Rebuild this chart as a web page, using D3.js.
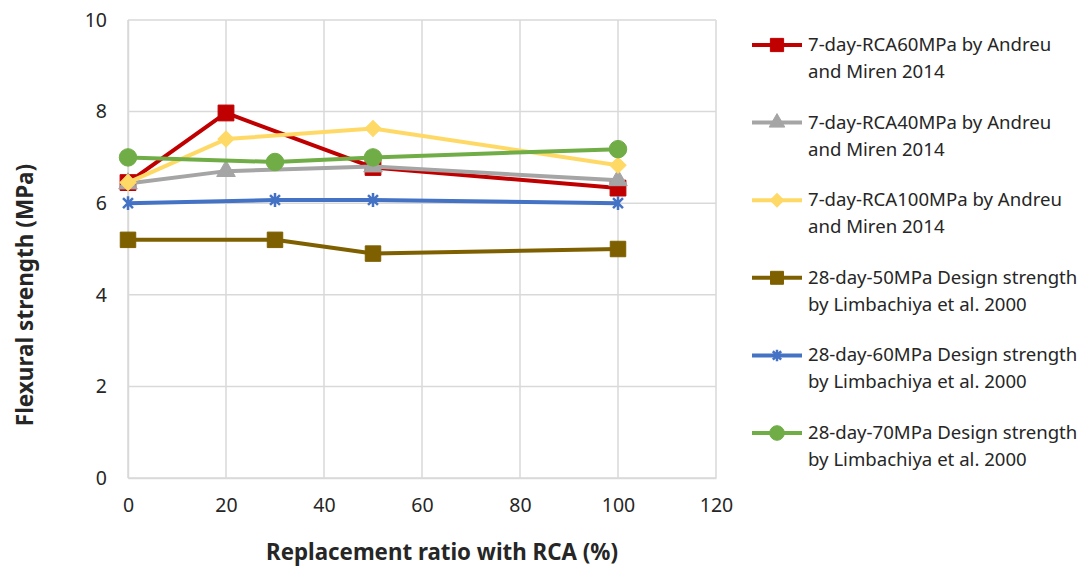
<!DOCTYPE html>
<html lang="en">
<head>
<meta charset="UTF-8">
<title>Flexural strength</title>
<style>
  *{margin:0;padding:0;}
  body{background:#fff;}
  #container{width:1090px;height:569px;}
  text{font-family:"Noto Sans","Open Sans",sans-serif;fill:#262626;}
</style>
</head>
<body>
<div id="container"></div>
<script src="https://cdn.jsdelivr.net/npm/d3@7"></script>
<script>
// data
var seriesNames = [
  ['7-day-RCA60MPa by Andreu', 'and Miren 2014'],
  ['7-day-RCA40MPa by Andreu', 'and Miren 2014'],
  ['7-day-RCA100MPa by Andreu', 'and Miren 2014'],
  ['28-day-50MPa Design strength', 'by Limbachiya et al. 2000'],
  ['28-day-60MPa Design strength', 'by Limbachiya et al. 2000'],
  ['28-day-70MPa Design strength', 'by Limbachiya et al. 2000']
]
var xAndreu = [0, 20, 50, 100]
var xLimb = [0, 30, 50, 100]
var rca60 = [6.45, 7.97, 6.78, 6.33]
var rca40 = [6.43, 6.7, 6.8, 6.5]
var rca100 = [6.45, 7.4, 7.63, 6.83]
var d50 = [5.2, 5.2, 4.9, 5.0]
var d60 = [6.0, 6.07, 6.07, 6.0]
var d70 = [7.0, 6.9, 7.0, 7.18]
var xTicks = [0, 20, 40, 60, 80, 100, 120]
var yTicks = [0, 2, 4, 6, 8, 10]

var colors = ['#C00000', '#A5A5A5', '#FFD966', '#7F6000', '#4472C4', '#70AD47']

// excel-like star marker: vertical line + X
var star = {draw: function(ctx, size){
  var r = Math.sqrt(size) / 2, d = r * 0.72
  ctx.moveTo(0, -r); ctx.lineTo(0, r)
  ctx.moveTo(-d, -d); ctx.lineTo(d, d)
  ctx.moveTo(-d, d); ctx.lineTo(d, -d)
}}
var markers = [
  {type: d3.symbolSquare, size: 250, rot: 0},
  {type: d3.symbolTriangle, size: 150, rot: 0},
  {type: d3.symbolSquare, size: 130, rot: 45},
  {type: d3.symbolSquare, size: 240, rot: 0},
  {type: star, size: 190, rot: 0, stroke: true},
  {type: d3.symbolCircle, size: 240, rot: 0}
]

var series = [
  {x: xAndreu, y: rca60},
  {x: xAndreu, y: rca40},
  {x: xAndreu, y: rca100},
  {x: xLimb, y: d50},
  {x: xLimb, y: d60},
  {x: xLimb, y: d70}
]

var W = 1090, H = 569
var mLeft = 128, mTop = 20, pw = 588, ph = 458

var svg = d3.select('#container').append('svg').attr('width', W).attr('height', H)
var g = svg.append('g').attr('transform', `translate(${mLeft},${mTop})`)

var sx = d3.scaleLinear().domain([0, 120]).range([0, pw])
var sy = d3.scaleLinear().domain([0, 10]).range([ph, 0])

// grid
g.append('g').selectAll('line').data(yTicks).enter().append('line')
  .attr('x1', 0).attr('x2', pw)
  .attr('y1', d => sy(d)).attr('y2', d => sy(d))
  .attr('stroke', '#D9D9D9').attr('stroke-width', 1.5)
g.append('g').selectAll('line').data(xTicks).enter().append('line')
  .attr('y1', 0).attr('y2', ph)
  .attr('x1', d => sx(d)).attr('x2', d => sx(d))
  .attr('stroke', '#D9D9D9').attr('stroke-width', 1.5)

// axes (labels only, lines are the grid)
var yAxis = d3.axisLeft(sy).tickValues(yTicks).tickSize(0).tickPadding(21)
var xAxis = d3.axisBottom(sx).tickValues(xTicks).tickSize(0).tickPadding(20)
var ya = g.append('g').call(yAxis)
var xa = g.append('g').attr('transform', `translate(0,${ph})`).call(xAxis)
ya.select('.domain').attr('stroke', '#D9D9D9').attr('stroke-width', 1.5)
xa.select('.domain').attr('stroke', '#D9D9D9').attr('stroke-width', 1.5)
g.selectAll('.tick text').attr('font-size', 19.5).attr('fill', '#262626')
  .style('font-family', '"Noto Sans",sans-serif')

// lines + markers
var line = d3.line().x(d => sx(d[0])).y(d => sy(d[1]))
series.forEach(function(s, i){
  var pts = s.x.map((x, j) => [x, s.y[j]])
  g.append('path').attr('d', line(pts))
    .attr('fill', 'none').attr('stroke', colors[i]).attr('stroke-width', 4)
    .attr('stroke-linejoin', 'round')
  var m = markers[i]
  var sym = d3.symbol().type(m.type).size(m.size)
  g.append('g').selectAll('path').data(pts).enter().append('path')
    .attr('d', sym)
    .attr('transform', d => `translate(${sx(d[0])},${sy(d[1])}) rotate(${m.rot})`)
    .attr('fill', m.stroke ? 'none' : colors[i])
    .attr('stroke', colors[i]).attr('stroke-width', m.stroke ? 2.5 : 1)
})

// axis titles
svg.append('text').text('Flexural strength (MPa)')
  .attr('transform', 'translate(33,295) rotate(-90)')
  .attr('text-anchor', 'middle').attr('font-size', 22.5).attr('font-weight', 'bold')
svg.append('text').text('Replacement ratio with RCA (%)')
  .attr('x', 442).attr('y', 560)
  .attr('text-anchor', 'middle').attr('font-size', 22.3).attr('font-weight', 'bold')

// legend
var lg = svg.append('g').attr('transform', 'translate(752,45)')
seriesNames.forEach(function(nm, i){
  var e = lg.append('g').attr('transform', `translate(0,${i * 77.6})`)
  e.append('line').attr('x1', 0).attr('x2', 50).attr('y1', 0).attr('y2', 0)
    .attr('stroke', colors[i]).attr('stroke-width', 4)
  var m = markers[i]
  e.append('path').attr('d', d3.symbol().type(m.type).size(m.size * 0.7))
    .attr('transform', `translate(25,0) rotate(${m.rot})`)
    .attr('fill', m.stroke ? 'none' : colors[i])
    .attr('stroke', colors[i]).attr('stroke-width', m.stroke ? 2.5 : 1)
  var t = e.append('text').attr('x', 56).attr('y', 6).attr('font-size', 18.6)
  t.append('tspan').attr('x', 56).text(nm[0])
  t.append('tspan').attr('x', 56).attr('dy', 27).text(nm[1])
})
</script>
</body>
</html>
